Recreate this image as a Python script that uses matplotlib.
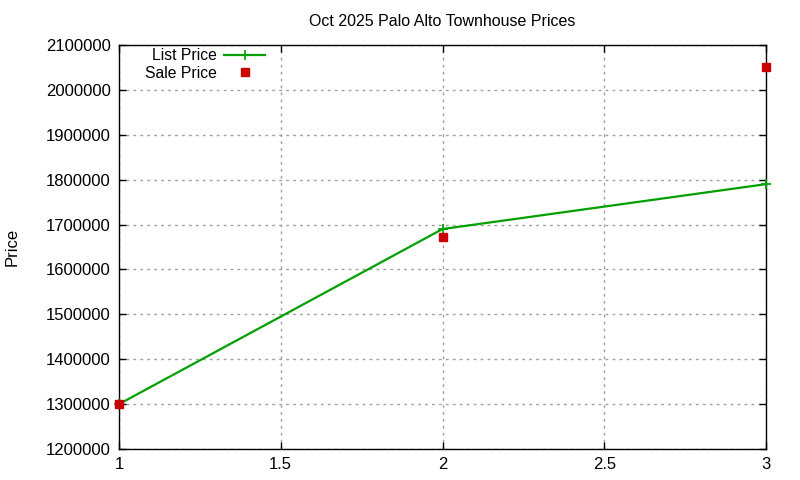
import matplotlib
matplotlib.use("Agg")
import matplotlib.pyplot as plt
from matplotlib.ticker import FuncFormatter, MultipleLocator

plt.rcParams['font.family'] = ['Liberation Sans', 'DejaVu Sans']

x_list = [1, 2, 3]
list_price = [1300000, 1690000, 1790000]
x_sale = [1, 2, 3]
sale_price = [1300000, 1672000, 2052000]
title = "Oct 2025 Palo Alto Townhouse Prices"
ylabel = "Price"

fig = plt.figure(figsize=(8, 4.8), dpi=100)
ax = fig.add_axes([119/800, 1-449/480, (766-119)/800, (449-45)/480])

ax.plot(x_list, list_price, color='#00a000', lw=1.6, marker='+', ms=7, mew=1.2,
        label='List Price', clip_on=False, zorder=3)
ax.plot(x_sale, sale_price, ls='none', marker='s', color='#cc0000', ms=6,
        label='Sale Price', clip_on=False, zorder=4)

ax.set_xlim(1, 3)
ax.set_ylim(1200000, 2100000)
ax.xaxis.set_major_locator(MultipleLocator(0.5))
ax.yaxis.set_major_locator(MultipleLocator(100000))
ax.xaxis.set_major_formatter(FuncFormatter(lambda v, p: f"{v:g}"))
ax.yaxis.set_major_formatter(FuncFormatter(lambda v, p: f"{int(round(v))}"))
ax.grid(True, color='#a0a0a0', ls=(0, (2, 3)), lw=1)
ax.tick_params(direction='in', top=True, right=True, length=5, width=1, labelsize=12, pad=6)
for s in ax.spines.values():
    s.set_linewidth(1)
ax.set_title(title, fontsize=11.5, pad=14)
ax.set_ylabel(ylabel, fontsize=12)
ax.yaxis.set_label_coords(-(119-20)/647, 0.5)

leg = ax.legend(loc='upper left', frameon=False, markerfirst=False, fontsize=11.3,
                handlelength=2.6, borderpad=0.1, labelspacing=0.15,
                bbox_to_anchor=(0.025, 1.015), handletextpad=0.5)
fig.savefig("out.png", dpi=100)
